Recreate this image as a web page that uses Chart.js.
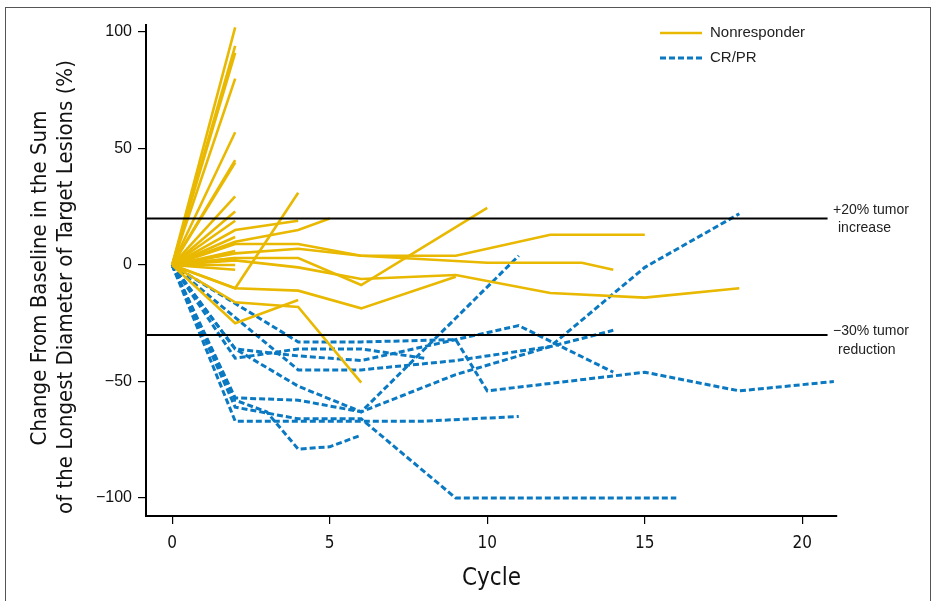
<!DOCTYPE html>
<html>
<head>
<meta charset="utf-8">
<script src="https://cdn.jsdelivr.net/npm/chart.js@4.4.1/dist/chart.umd.min.js"></script>
<style>
  html, body { margin: 0; padding: 0; background: #fff; }
  #wrap { position: relative; width: 937px; height: 601px; }
  #frame { position: absolute; left: 5px; top: 7px; width: 924px; height: 600px;
           border-left: 1.5px solid #555; border-top: 1.5px solid #555; border-right: 1.5px solid #555; }
  canvas { position: absolute; left: 0; top: 0; }
</style>
</head>
<body>
<div id="wrap">
  <div id="frame"></div>
  <canvas id="spider" width="937" height="601"></canvas>
</div>
<script>
// nonresponders with only one follow-up scan (cycle 2)
const nrAtCycle2 = [102, 94, 91, 80, 57, 45, 44, 29.5, 23, 19, 12, 6, 3, 0, -2];

// nonresponders followed longer
const nrCycles = [
  [0, 2, 4],
  [0, 2, 4],
  [0, 2, 4, 5],
  [0, 2, 4, 6, 9, 12, 15],
  [0, 2, 4, 6, 10],
  [0, 2, 4, 6, 9, 12, 15, 18],
  [0, 2, 4, 6, 10, 13, 14],
  [0, 2, 4, 6, 9],
  [0, 2, 4, 6],
  [0, 2, 4]
];
const nrChanges = [
  [0, -10, 31],
  [0, 15, 19],
  [0, 10, 15, 20],
  [0, 9, 9, 4, 4, 13, 13],
  [0, 3, 3, -8.6, 24.5],
  [0, 2, -1, -6, -4.3, -12, -14, -10],
  [0, 5, 7, 4, 1, 1, -2],
  [0, -10, -11, -18.6, -5],
  [0, -16, -18, -50.5],
  [0, -25, -15]
];

// complete / partial responders
const crCycles = [
  [0, 2, 6, 8, 11],
  [0, 2, 4, 6, 9, 16],
  [0, 2, 3, 4, 5, 6],
  [0, 2, 4, 6, 11],
  [0, 2, 4, 6, 9, 12, 15, 18],
  [0, 4, 6, 9, 10, 15, 18, 21],
  [0, 4, 6, 9, 12, 14],
  [0, 2, 4, 6, 11, 14],
  [0, 2, 4, 6, 8]
];
const crChanges = [
  [0, -67, -67, -67, -65],
  [0, -61, -66, -66, -100, -100],
  [0, -58, -63, -79, -78, -73],
  [0, -57, -58, -63, 4],
  [0, -36, -52, -63, -47, -35, -1, 22],
  [0, -33, -33, -32, -54, -46, -54, -50],
  [0, -45, -45, -41, -35, -28],
  [0, -36, -39, -41, -26, -46],
  [0, -40, -36, -36, -40]
];

const xTicks = [0, 5, 10, 15, 20];
const yTicks = [-100, -50, 0, 50, 100];
const thresholds = [20, -30];
const yTitle = ["Change From Baseline in the Sum", "of the Longest Diameter of Target Lesions (%)"];

const YELLOW = "#E9B800";
const BLUE = "#0A79C2";
const NARROW = "'Liberation Sans Narrow', 'DejaVu Sans Condensed', 'Liberation Sans', sans-serif";
const SANS = "'Liberation Sans', Arial, sans-serif";

function toPoints(cyc, chg) {
  return cyc.map((c, i) => ({ x: c, y: chg[i] }));
}

const datasets = [];
nrAtCycle2.forEach((v) => {
  datasets.push({ label: "Nonresponder", data: toPoints([0, 2], [0, v]),
    borderColor: YELLOW, borderWidth: 2.6 });
});
nrCycles.forEach((c, i) => {
  datasets.push({ label: "Nonresponder", data: toPoints(c, nrChanges[i]),
    borderColor: YELLOW, borderWidth: 2.6 });
});
crCycles.forEach((c, i) => {
  datasets.push({ label: "CR/PR", data: toPoints(c, crChanges[i]),
    borderColor: BLUE, borderWidth: 3, borderDash: [6, 3] });
});

// reference lines, side notes, y title and legend
const extras = {
  id: "extras",
  afterDatasetsDraw(chart) {
    const ctx = chart.ctx;
    const xs = chart.scales.x, ys = chart.scales.y;
    ctx.save();
    ctx.strokeStyle = "#000";
    ctx.lineWidth = 2;
    thresholds.forEach((t) => {
      const py = ys.getPixelForValue(t);
      ctx.beginPath();
      ctx.moveTo(chart.chartArea.left, py);
      ctx.lineTo(xs.getPixelForValue(20.8), py);
      ctx.stroke();
    });

    ctx.fillStyle = "#222";
    ctx.font = "14px " + SANS;
    ctx.textAlign = "left";
    ctx.textBaseline = "middle";
    const p20 = ys.getPixelForValue(20), m30 = ys.getPixelForValue(-30);
    ctx.fillText("+20% tumor", 833, p20 - 8);
    ctx.fillText("increase", 838, p20 + 10);
    ctx.fillText("\u221230% tumor", 833, m30 - 4);
    ctx.fillText("reduction", 838, m30 + 15);

    // legend
    ctx.lineWidth = 2.6;
    ctx.strokeStyle = YELLOW;
    ctx.beginPath(); ctx.moveTo(660, 33); ctx.lineTo(702, 33); ctx.stroke();
    ctx.strokeStyle = BLUE;
    ctx.lineWidth = 3;
    ctx.setLineDash([6, 3]);
    ctx.beginPath(); ctx.moveTo(660, 58); ctx.lineTo(702, 58); ctx.stroke();
    ctx.setLineDash([]);
    ctx.fillStyle = "#222";
    ctx.font = "15px " + SANS;
    ctx.fillText("Nonresponder", 710, 33);
    ctx.fillText("CR/PR", 710, 58);

    // y axis title, two rotated lines
    ctx.fillStyle = "#111";
    ctx.font = "22px " + NARROW;
    ctx.textAlign = "center";
    [[40, 278], [66, 287]].forEach((pos, i) => {
      ctx.save();
      ctx.translate(pos[0], pos[1]);
      ctx.rotate(-Math.PI / 2);
      ctx.fillText(yTitle[i], 0, 0);
      ctx.restore();
    });
    ctx.restore();
  }
};

new Chart(document.getElementById("spider"), {
  type: "line",
  data: { datasets: datasets },
  options: {
    responsive: false,
    animation: false,
    events: [],
    layout: { padding: { left: 0, top: 25, right: 100, bottom: 0 } },
    elements: { point: { radius: 0 }, line: { tension: 0, fill: false, borderCapStyle: "butt" } },
    plugins: { legend: { display: false }, tooltip: { enabled: false } },
    scales: {
      x: {
        type: "linear",
        min: -0.83,
        max: 21.1,
        afterFit: (s) => { s.height = 85; },
        afterBuildTicks: (s) => { s.ticks = xTicks.map((v) => ({ value: v })); },
        grid: { display: true, drawOnChartArea: false, drawTicks: true, tickLength: 8, color: "#000", lineWidth: 1.2 },
        border: { display: true, color: "#000", width: 2 },
        ticks: { color: "#111", font: { family: NARROW, size: 17 }, padding: 9, maxRotation: 0 },
        title: { display: true, text: "Cycle", color: "#111", font: { family: NARROW, size: 24 }, padding: { top: 0, bottom: 8 } }
      },
      y: {
        min: -107.7,
        max: 103,
        afterFit: (s) => { s.width = 146; },
        afterBuildTicks: (s) => { s.ticks = yTicks.map((v) => ({ value: v })); },
        grid: { display: true, drawOnChartArea: false, drawTicks: true, tickLength: 8, color: "#000", lineWidth: 1.2 },
        border: { display: true, color: "#000", width: 2 },
        ticks: {
          color: "#111", font: { family: SANS, size: 16 }, padding: 6,
          callback: (v) => (v < 0 ? "\u2212" + Math.abs(v) : String(v))
        },
        title: { display: false }
      }
    }
  },
  plugins: [extras]
});
</script>
</body>
</html>
